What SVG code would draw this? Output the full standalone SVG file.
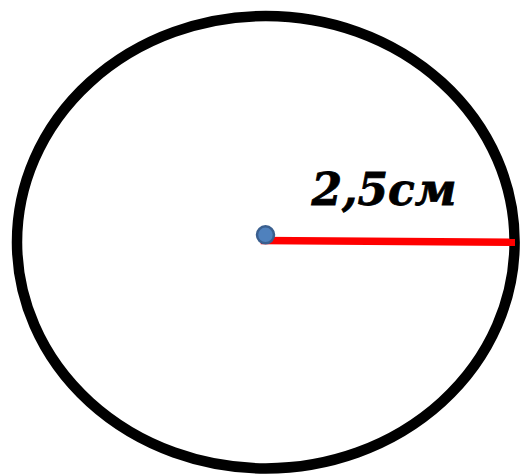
<svg xmlns="http://www.w3.org/2000/svg" width="520" height="475" viewBox="0 0 520 475">
  <style>
    .circle { fill: none; stroke: #000000; stroke-width: 10.5; }
    .radius { stroke: #ff0000; stroke-width: 7.5; stroke-linecap: butt; }
    .center { fill: #4f81bd; stroke: #3a5f8f; stroke-width: 2.5; }
    .label { font-family: "DejaVu Serif", "Liberation Serif", serif; font-weight: bold; font-style: italic; font-size: 44px; fill: #000000; stroke: #000000; stroke-width: 0.8; }
  </style>
  <rect width="520" height="475" fill="#ffffff"/>
  <g id="circle">
    <ellipse class="circle" cx="265.8" cy="242.2" rx="248.8" ry="226.2"/>
  </g>
  <g id="connectors">
    <line class="radius" x1="260.7" y1="240.5" x2="515" y2="242.3"/>
  </g>
  <g id="center">
    <circle class="center" cx="265.5" cy="234.8" r="8.5"/>
  </g>
  <g id="label">
    <text class="label" x="311.5" y="204.5" textLength="145" lengthAdjust="spacingAndGlyphs">2,5см</text>
  </g>
</svg>
